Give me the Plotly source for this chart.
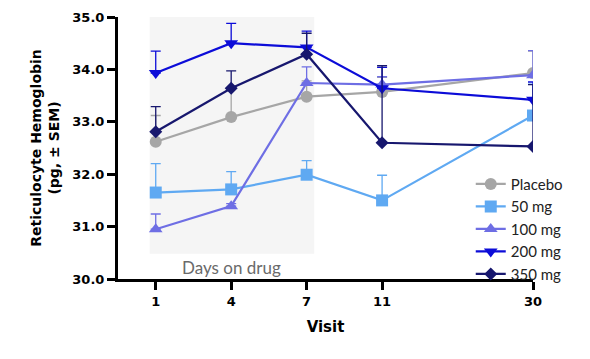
import plotly.graph_objects as go

visits = ["1", "4", "7", "11", "30"]
visit_pos = [1, 2, 3, 4, 6]

series_names = ["Placebo", "50 mg", "100 mg", "200 mg", "350 mg"]
placebo = [32.62, 33.09, 33.48, 33.57, 33.93]
mg50 = [31.65, 31.71, 31.99, 31.50, 33.12]
mg100 = [30.95, 31.39, 33.74, 33.71, 33.89]
mg200 = [33.93, 34.50, 34.42, 33.64, 33.42]
mg350 = [32.81, 33.64, 34.29, 32.60, 32.53]

sem_placebo = [0.50, 0.55, 0.30, 0.28, 0.42]
sem_50 = [0.55, 0.34, 0.27, 0.48, 0.60]
sem_100 = [0.29, 0.05, 0.31, 0.15, 0.47]
sem_200 = [0.42, 0.38, 0.31, 0.40, 0.34]
sem_350 = [0.48, 0.33, 0.40, 1.47, 1.18]

colors = ["#a6a6a6", "#5fa9f2", "#6e6ee4", "#0c0cd8", "#17176e"]
symbols = ["circle", "square", "triangle-up", "triangle-down", "diamond"]
sizes = [12, 12, 12, 12, 10]

fig = go.Figure()
for name, vals, sem, col, sym, sz in zip(
    series_names,
    [placebo, mg50, mg100, mg200, mg350],
    [sem_placebo, sem_50, sem_100, sem_200, sem_350],
    colors, symbols, sizes,
):
    fig.add_trace(go.Scatter(
        x=visit_pos, y=vals, name=name, mode="lines+markers",
        line=dict(color=col, width=2.2),
        marker=dict(color=col, symbol=sym, size=sz),
        error_y=dict(type="data", array=sem, arrayminus=[0] * len(sem),
                     symmetric=False, color=col, thickness=1.3, width=5),
    ))

fig.add_shape(type="rect", xref="x", yref="y", x0=0.92, x1=3.1, y0=30.48, y1=35.0,
              fillcolor="#f5f5f5", line=dict(width=0), layer="below")
fig.add_annotation(x=2, y=30.22, xref="x", yref="y", text="Days on drug", showarrow=False,
                   font=dict(family="Lato", size=17, color="#6a6a6a"))

fig.update_layout(
    width=590, height=359,
    margin=dict(l=110, r=65, t=9, b=88),
    paper_bgcolor="white", plot_bgcolor="white",
    showlegend=True,
    legend=dict(x=0.85, y=0.425, xanchor="left", yanchor="top",
                bgcolor="rgba(0,0,0,0)", font=dict(family="Lato", size=15, color="#222"),
                tracegroupgap=0, itemsizing="trace"),
    xaxis=dict(range=[0.5, 6], tickvals=visit_pos, ticktext=visits, automargin=False,
               showline=True, linecolor="black", linewidth=3, ticks="outside",
               ticklen=8, tickwidth=3, tickcolor="black", showgrid=False, zeroline=False,
               tickfont=dict(family="DejaVu Sans", size=13, color="black", weight="bold"),
               title=dict(text="Visit", font=dict(family="DejaVu Sans", size=15, color="black", weight="bold"),
                          standoff=14)),
    yaxis=dict(range=[30, 35], tickvals=[30, 31, 32, 33, 34, 35], tickformat=".1f", automargin=False,
               showline=True, linecolor="black", linewidth=3, ticks="outside",
               ticklen=8, tickwidth=3, tickcolor="black", showgrid=False, zeroline=False,
               tickfont=dict(family="DejaVu Sans", size=13, color="black", weight="bold"),
               title=dict(text="Reticulocyte Hemoglobin<br>(pg, ± SEM)",
                          font=dict(family="DejaVu Sans", size=14, color="black", weight="bold"),
                          standoff=10)),
)

fig.write_html("out.html")
